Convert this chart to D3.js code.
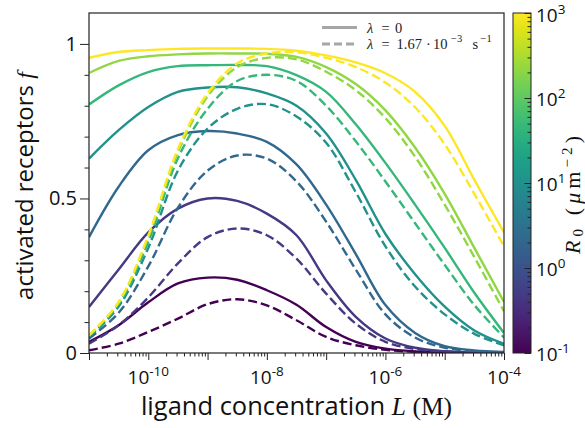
<!DOCTYPE html>
<html><head><meta charset="utf-8">
<script src="https://cdn.jsdelivr.net/npm/d3@7"></script>
<style>body{margin:0;background:#fff} svg{display:block}</style>
</head><body><svg id="c" width="585" height="428"></svg>
<script>
// ---- data ----
const logL = [-11,-10.5,-10,-9.5,-9,-8.5,-8,-7.5,-7,-6.5,-6,-5.5,-5,-4.5,-4];
const R0 = [0.1, 0.464, 2.15, 10, 46.4, 215, 1000];
// lambda = 0 (solid)
const solid_0_1  = [0.036,0.09,0.164,0.225,0.244,0.237,0.203,0.156,0.084,0.036,0.014,0.005,0.002,0.001,0.0];
const solid_0_46 = [0.149,0.27,0.39,0.467,0.5,0.492,0.451,0.381,0.235,0.117,0.047,0.017,0.006,0.002,0.001];
const solid_2_15 = [0.375,0.538,0.656,0.705,0.718,0.71,0.683,0.61,0.48,0.32,0.155,0.065,0.022,0.008,0.003];
const solid_10   = [0.629,0.721,0.796,0.845,0.859,0.86,0.84,0.80,0.71,0.56,0.385,0.255,0.15,0.073,0.03];
const solid_46   = [0.804,0.866,0.909,0.928,0.931,0.932,0.928,0.899,0.845,0.74,0.615,0.48,0.34,0.195,0.065];
const solid_215  = [0.906,0.945,0.960,0.966,0.969,0.969,0.968,0.958,0.925,0.87,0.785,0.665,0.515,0.34,0.165];
const solid_1000 = [0.955,0.974,0.98,0.984,0.985,0.985,0.984,0.978,0.963,0.94,0.905,0.845,0.735,0.56,0.39];
// lambda = 1.67e-3 s^-1 (dashed)
const dash_0_1  = [0.009,0.03,0.068,0.111,0.158,0.174,0.154,0.106,0.052,0.025,0.01,0.004,0.001,0.0,0.0];
const dash_0_46 = [0.03,0.09,0.18,0.29,0.375,0.403,0.381,0.305,0.192,0.095,0.036,0.013,0.005,0.002,0.001];
const dash_2_15 = [0.047,0.13,0.28,0.47,0.59,0.639,0.629,0.555,0.425,0.27,0.125,0.05,0.017,0.006,0.002];
const dash_10   = [0.052,0.15,0.34,0.59,0.726,0.79,0.805,0.765,0.68,0.52,0.345,0.215,0.125,0.062,0.025];
const dash_46   = [0.055,0.158,0.36,0.63,0.79,0.88,0.90,0.88,0.80,0.685,0.555,0.42,0.285,0.155,0.05];
const dash_215  = [0.056,0.163,0.375,0.65,0.83,0.925,0.955,0.95,0.91,0.85,0.76,0.635,0.48,0.31,0.135];
const dash_1000 = [0.057,0.165,0.38,0.66,0.84,0.937,0.969,0.973,0.955,0.925,0.875,0.795,0.675,0.515,0.345];
const xMajorExp = [-11,-10,-9,-8,-7,-6,-5,-4];
const xLabelExp = [-10,-8,-6,-4];
const yTicks = [0,0.5,1];
const yMinor = [0.1,0.2,0.3,0.4,0.6,0.7,0.8,0.9];
const cbExp = [-1,0,1,2,3];

const solids = [solid_0_1,solid_0_46,solid_2_15,solid_10,solid_46,solid_215,solid_1000];
const dashes = [dash_0_1,dash_0_46,dash_2_15,dash_10,dash_46,dash_215,dash_1000];

// ---- layout ----
const L=89, R=504, T=13, B=353;
const svg = d3.select("#c");
const x = d3.scaleLog().domain([1e-11,1e-4]).range([L,R]);
const y = d3.scaleLinear().domain([0,1.1]).range([B,T]);
const color = d3.scaleSequentialLog(d3.interpolateViridis).domain([0.1,1000]);
const sans = "'Open Sans', 'Noto Sans', sans-serif";
const serif = "'Liberation Serif', 'DejaVu Serif', serif";

svg.append("defs").append("clipPath").attr("id","clip")
  .append("rect").attr("x",L).attr("y",T).attr("width",R-L).attr("height",B-T);

const line = d3.line().x(d=>x(Math.pow(10,d[0]))).y(d=>y(d[1])).curve(d3.curveCatmullRom.alpha(0.5));
const g = svg.append("g").attr("clip-path","url(#clip)");
R0.forEach((r,i)=>{
  g.append("path").attr("d", line(logL.map((l,j)=>[l, solids[i][j]])))
    .attr("fill","none").attr("stroke",color(r)).attr("stroke-width",2.4);
  g.append("path").attr("d", line(logL.map((l,j)=>[l, dashes[i][j]])))
    .attr("fill","none").attr("stroke",color(r)).attr("stroke-width",2.4)
    .attr("stroke-dasharray","9,4");
});

// frame
svg.append("rect").attr("x",L).attr("y",T).attr("width",R-L).attr("height",B-T)
  .attr("fill","none").attr("stroke","#222").attr("stroke-width",1.2);

// x axis
const xMinor = [];
xMajorExp.slice(0,-1).forEach(e=>{ for(let k=2;k<=9;k++) xMinor.push(k*Math.pow(10,e)); });
const xa = svg.append("g").attr("transform",`translate(0,${B})`);
xa.call(d3.axisBottom(x).tickValues(xMajorExp.map(e=>Math.pow(10,e))).tickSize(7).tickFormat(""));
const xa2 = svg.append("g").attr("transform",`translate(0,${B})`);
xa2.call(d3.axisBottom(x).tickValues(xMinor).tickSize(3.5).tickFormat(""));
[xa,xa2].forEach(a=>{a.select(".domain").remove(); a.selectAll("line").attr("stroke","#222").attr("stroke-width",1);});
xLabelExp.forEach(e=>{
  const t = svg.append("text").attr("x",x(Math.pow(10,e))).attr("y",384)
    .attr("text-anchor","middle").attr("font-family",sans).attr("font-size",19).attr("fill","#111");
  t.append("tspan").text("10");
  t.append("tspan").attr("dy",-8).attr("font-size",13.5).text(e<0?"-"+(-e):String(e));
});

// y axis
const ya = svg.append("g").attr("transform",`translate(${L},0)`);
ya.call(d3.axisLeft(y).tickValues(yTicks).tickSize(9).tickPadding(3).tickFormat(d=>d===0?"0":(d===1?"1":"0.5")));
const ya2 = svg.append("g").attr("transform",`translate(${L},0)`);
ya2.call(d3.axisLeft(y).tickValues(yMinor).tickSize(4.5).tickFormat(""));
[ya,ya2].forEach(a=>{a.select(".domain").remove(); a.selectAll("line").attr("stroke","#222").attr("stroke-width",1);});
ya.selectAll("text").attr("font-family",sans).attr("font-size",20).attr("fill","#111");

// axis labels
const xl = svg.append("text").attr("x",(L+R)/2).attr("y",415).attr("text-anchor","middle")
  .attr("font-family",sans).attr("font-size",25.5).attr("fill","#111");
xl.append("tspan").text("ligand concentration ");
xl.append("tspan").attr("font-family",serif).attr("font-style","italic").text("L");
xl.append("tspan").attr("font-family",serif).text(" (M)");

const yl = svg.append("text").attr("transform",`translate(33,186) rotate(-90)`).attr("text-anchor","middle")
  .attr("font-family",sans).attr("font-size",24).attr("fill","#111");
yl.append("tspan").text("activated receptors ");
yl.append("tspan").attr("font-family",serif).attr("font-style","italic").text("f");

// legend
const lg = svg.append("g");
[[27.5,null],[44,"8,4"]].forEach(d=>{
  lg.append("line").attr("x1",322).attr("x2",357).attr("y1",d[0]).attr("y2",d[0])
    .attr("stroke","#a6a6a6").attr("stroke-width",3).attr("stroke-dasharray",d[1]);
});
const piece = (txt,px,py,opts={})=>lg.append("text").attr("x",px).attr("y",py)
  .attr("font-family",serif).attr("font-size",opts.size||14.5).attr("font-style",opts.it?"italic":"normal")
  .attr("fill","#222").text(txt);
piece("λ",367,32.5,{it:true}); piece("=",381.5,32.5); piece("0",395,32.5);
piece("λ",367,48.5,{it:true}); piece("=",381.5,48.5); piece("1.67",396.5,48.5); piece("·",426,48.5);
piece("10",433,48.5); piece("−3",451,41.5,{size:10.5}); piece("s",472.5,48.5); piece("−1",480.5,41.5,{size:10.5});

// colorbar
const cx0=513, cw=18;
const cb = d3.scaleLog().domain([0.1,1000]).range([B,T]);
const grad = svg.select("defs").append("linearGradient").attr("id","vir")
  .attr("x1",0).attr("y1",1).attr("x2",0).attr("y2",0);
d3.range(0,1.0001,0.05).forEach(t=>grad.append("stop").attr("offset",t).attr("stop-color",d3.interpolateViridis(t)));
svg.append("rect").attr("x",cx0).attr("y",T).attr("width",cw).attr("height",B-T).attr("fill","url(#vir)")
  .attr("stroke","#222").attr("stroke-width",1);
const cbMinor=[];
cbExp.slice(0,-1).forEach(e=>{for(let k=2;k<=9;k++) cbMinor.push(k*Math.pow(10,e));});
const ca = svg.append("g").attr("transform",`translate(${cx0+cw},0)`);
ca.call(d3.axisLeft(cb).tickValues(cbExp.map(e=>Math.pow(10,e))).tickSize(6.5).tickFormat(""));
const ca2 = svg.append("g").attr("transform",`translate(${cx0+cw},0)`);
ca2.call(d3.axisLeft(cb).tickValues(cbMinor).tickSize(3.5).tickFormat(""));
[ca,ca2].forEach(a=>{a.select(".domain").remove(); a.selectAll("line").attr("stroke","#222").attr("stroke-width",1);});
cbExp.forEach(e=>{
  const t = svg.append("text").attr("x",536).attr("y",Math.max(cb(Math.pow(10,e))+8,22))
    .attr("font-family",sans).attr("font-size",19).attr("fill","#111");
  t.append("tspan").text("10");
  t.append("tspan").attr("dy",-8).attr("font-size",13.5).text(e<0?"-"+(-e):String(e));
});
const cl = svg.append("text").attr("transform",`translate(580,195) rotate(-90)`).attr("text-anchor","middle")
  .attr("font-family",serif).attr("font-size",22).attr("fill","#111")
  .attr("textLength",118).attr("lengthAdjust","spacing");
cl.append("tspan").attr("font-style","italic").text("R");
cl.append("tspan").attr("dy",3).attr("font-size",15).text("0");
cl.append("tspan").attr("dy",-3).text(" (");
cl.append("tspan").attr("font-style","italic").text("μ");
cl.append("tspan").text("m");
cl.append("tspan").attr("dy",-8).attr("font-size",15).text("−2");
cl.append("tspan").attr("dy",8).text(")");
</script></body></html>
